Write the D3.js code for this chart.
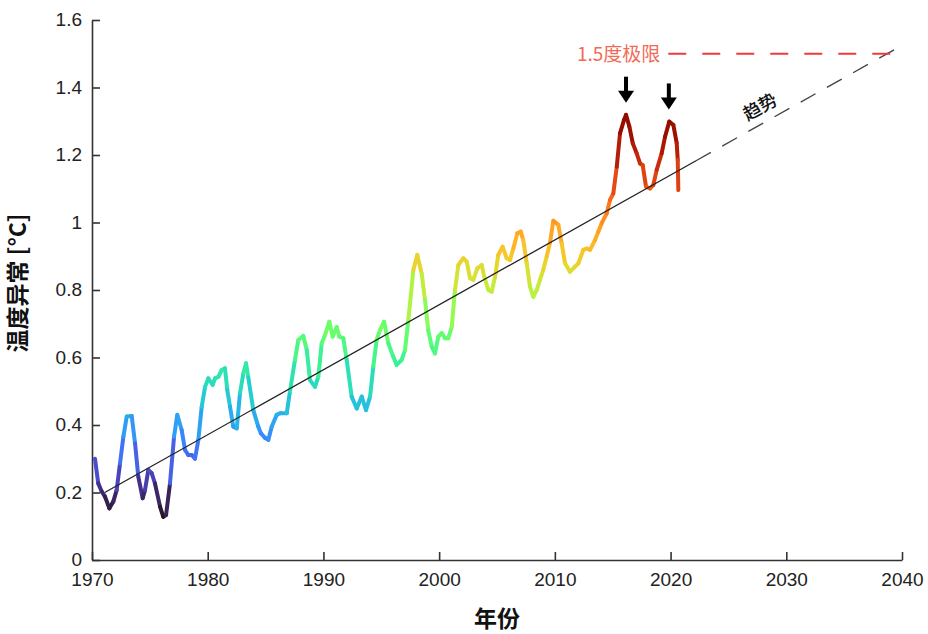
<!DOCTYPE html>
<html>
<head>
<meta charset="utf-8">
<script src="https://cdn.jsdelivr.net/npm/d3@7"></script>
<style>
  html, body { margin: 0; padding: 0; background: #fff; }
  svg { display: block; }
</style>
</head>
<body>
<svg id="chart" width="928" height="634"></svg>
<script>
// ---- data ----
const years = [1970.26,1970.54,1970.84,1971.12,1971.50,1971.84,1972.13,1972.42,1972.71,1973.00,1973.43,1973.72,1974.00,1974.38,1974.58,1974.87,1975.16,1975.44,1975.88,1976.16,1976.40,1976.74,1977.09,1977.37,1977.75,1978.04,1978.32,1978.62,1978.90,1979.19,1979.48,1979.77,1980.05,1980.43,1980.63,1980.92,1981.21,1981.49,1981.69,1981.93,1982.21,1982.51,1982.79,1983.08,1983.31,1983.51,1983.94,1984.37,1984.60,1984.95,1985.24,1985.53,1985.96,1986.25,1986.83,1987.11,1987.54,1987.83,1988.26,1988.56,1988.84,1989.27,1989.56,1989.85,1990.14,1990.51,1990.80,1991.15,1991.37,1991.72,1992.01,1992.44,1992.88,1993.31,1993.68,1994.03,1994.31,1994.60,1994.89,1995.24,1995.61,1996.04,1996.33,1996.76,1997.05,1997.34,1997.77,1998.11,1998.49,1998.78,1999.06,1999.36,1999.64,1999.93,2000.22,2000.51,2000.79,2001.09,2001.37,2001.66,2002.09,2002.38,2002.67,2002.95,2003.30,2003.68,2003.90,2004.25,2004.54,2004.83,2005.11,2005.49,2005.84,2006.12,2006.41,2006.76,2007.05,2007.27,2007.57,2007.85,2008.14,2008.43,2008.72,2009.00,2009.30,2009.58,2009.87,2010.30,2010.59,2010.88,2011.31,2011.74,2012.03,2012.46,2012.75,2013.04,2013.47,2013.76,2014.05,2014.48,2014.77,2015.05,2015.35,2015.63,2015.98,2016.15,2016.44,2016.73,2017.07,2017.36,2017.59,2017.88,2018.22,2018.51,2018.80,2019.23,2019.52,2019.89,2020.24,2020.53,2020.62,2020.67];
const anomaly = [0.30,0.227,0.203,0.188,0.153,0.173,0.207,0.286,0.365,0.425,0.427,0.346,0.247,0.183,0.207,0.267,0.257,0.227,0.158,0.128,0.133,0.227,0.365,0.43,0.385,0.326,0.311,0.311,0.30,0.356,0.454,0.513,0.538,0.519,0.538,0.543,0.563,0.568,0.504,0.454,0.395,0.39,0.494,0.553,0.583,0.54,0.444,0.395,0.375,0.362,0.356,0.395,0.43,0.435,0.435,0.50,0.593,0.652,0.664,0.622,0.533,0.513,0.543,0.642,0.667,0.706,0.662,0.69,0.662,0.657,0.593,0.484,0.449,0.484,0.444,0.484,0.573,0.652,0.681,0.706,0.642,0.602,0.578,0.593,0.622,0.711,0.859,0.904,0.849,0.77,0.681,0.632,0.612,0.662,0.672,0.657,0.657,0.691,0.80,0.874,0.894,0.884,0.835,0.83,0.864,0.874,0.839,0.80,0.795,0.839,0.904,0.928,0.894,0.889,0.923,0.968,0.973,0.948,0.879,0.81,0.78,0.80,0.83,0.86,0.90,0.94,1.005,0.993,0.938,0.879,0.854,0.869,0.879,0.919,0.923,0.919,0.948,0.973,0.998,1.027,1.067,1.086,1.165,1.264,1.304,1.319,1.284,1.235,1.205,1.175,1.17,1.106,1.101,1.111,1.156,1.205,1.254,1.299,1.289,1.235,1.185,1.096];

const trendYears = [1971.1, 2022.2, 2040];
const trendValues = [0.20, 1.183, 1.525];

const limitYears = [2019.8, 2039.0];
const limitValue = 1.5;
const limitLabel = "1.5度极限";
const trendLabel = "趋势";

const arrowYears = [2016.15, 2019.85];
const arrowTipValues = [1.355, 1.335];

const xTicks = [1970, 1980, 1990, 2000, 2010, 2020, 2030, 2040];
const yTicks = [0, 0.2, 0.4, 0.6, 0.8, 1.0, 1.2, 1.4, 1.6];
const yTickLabels = ["0", "0.2", "0.4", "0.6", "0.8", "1", "1.2", "1.4", "1.6"];
const xLabel = "年份";
const yLabel = "温度异常 [°C]";

// ---- chart ----
(function () {
const svg = d3.select("#chart");
const mLeft = 92, mRight = 902, mTop = 20, mBottom = 560;
const x = d3.scaleLinear().domain([1970, 2040]).range([mLeft, mRight]);
const y = d3.scaleLinear().domain([0, 1.6]).range([mBottom, mTop]);

const tScale = d3.scaleLinear().domain([0.13, 0.2, 1.32]).range([0.0, 0.03, 1.0]).clamp(true);
const color = v => d3.interpolateTurbo(tScale(v));

const tickFont = "'Liberation Sans', Arial, sans-serif";
const cjkFont = "'Noto Sans CJK SC', 'Noto Sans', sans-serif";

// axes
const xAxis = d3.axisBottom(x).tickValues(xTicks).tickFormat(d3.format("d"))
  .tickSizeInner(-8).tickSizeOuter(0).tickPadding(13);
const yAxis = d3.axisLeft(y).tickValues(yTicks).tickFormat((d, i) => yTickLabels[i])
  .tickSizeInner(-8).tickSizeOuter(0).tickPadding(10);

const gx = svg.append("g").attr("transform", `translate(0,${mBottom})`).call(xAxis);
const gy = svg.append("g").attr("transform", `translate(${mLeft},0)`).call(yAxis);
[gx, gy].forEach(g => {
  g.select(".domain").attr("stroke", "#333").attr("stroke-width", 1.6);
  g.selectAll(".tick line").attr("stroke", "#333").attr("stroke-width", 1.6);
  g.selectAll(".tick text").attr("fill", "#222").style("font-family", tickFont).style("font-size", "19px");
});
gy.selectAll(".tick text").attr("dy", "0.30em");

// data line (colored by value)
const pts = years.map((yr, i) => [yr, anomaly[i]]);
const segs = svg.append("g");
for (let i = 0; i < pts.length - 1; i++) {
  const a = pts[i], b = pts[i + 1];
  segs.append("line")
    .attr("x1", x(a[0])).attr("y1", y(a[1]))
    .attr("x2", x(b[0])).attr("y2", y(b[1]))
    .attr("stroke", color((a[1] + b[1]) / 2))
    .attr("stroke-width", 4)
    .attr("stroke-linecap", "round");
}

// trend
svg.append("line")
  .attr("x1", x(trendYears[0])).attr("y1", y(trendValues[0]))
  .attr("x2", x(trendYears[1])).attr("y2", y(trendValues[1]))
  .attr("stroke", "#222").attr("stroke-width", 1.3);
svg.append("line")
  .attr("x1", x(trendYears[1])).attr("y1", y(trendValues[1]))
  .attr("x2", x(trendYears[2])).attr("y2", y(trendValues[2]))
  .attr("stroke", "#444").attr("stroke-width", 1.4)
  .attr("stroke-dasharray", "17,13");

// 1.5 limit
svg.append("line")
  .attr("x1", x(limitYears[0])).attr("y1", y(limitValue))
  .attr("x2", x(limitYears[1])).attr("y2", y(limitValue))
  .attr("stroke", "#ee3b3b").attr("stroke-width", 2)
  .attr("stroke-dasharray", "18,16");
svg.append("text")
  .attr("x", x(limitYears[0]) - 8).attr("y", y(limitValue) + 7)
  .attr("text-anchor", "end")
  .attr("fill", "#f26a57")
  .style("font-family", cjkFont).style("font-size", "19px")
  .text(limitLabel);

// trend label
const angle = Math.atan2(y(trendValues[2]) - y(trendValues[1]), x(trendYears[2]) - x(trendYears[1])) * 180 / Math.PI;
const lx = 760, ly = 107;
svg.append("text")
  .attr("transform", `translate(${lx},${ly}) rotate(${angle})`)
  .attr("text-anchor", "middle").attr("dy", "0.35em")
  .attr("fill", "#111")
  .style("font-family", cjkFont).style("font-size", "18px").style("font-weight", 500)
  .text(trendLabel);

// arrows
arrowYears.forEach((yr, i) => {
  const cx = x(yr), tip = y(arrowTipValues[i]);
  const g = svg.append("g");
  g.append("rect").attr("x", cx - 2).attr("y", tip - 26).attr("width", 4).attr("height", 15).attr("fill", "#000");
  g.append("path")
    .attr("d", `M${cx - 8},${tip - 12} L${cx + 8},${tip - 12} L${cx},${tip} Z`)
    .attr("fill", "#000");
});

// axis labels
svg.append("text")
  .attr("x", (mLeft + mRight) / 2).attr("y", 627)
  .attr("text-anchor", "middle")
  .attr("fill", "#111")
  .style("font-family", cjkFont).style("font-size", "23px").style("font-weight", "bold")
  .text(xLabel);
svg.append("text")
  .attr("transform", `translate(26,283) rotate(-90)`)
  .attr("text-anchor", "middle")
  .attr("fill", "#111")
  .style("font-family", cjkFont).style("font-size", "23px").style("font-weight", "bold")
  .text(yLabel);
})();
</script>
</body>
</html>
